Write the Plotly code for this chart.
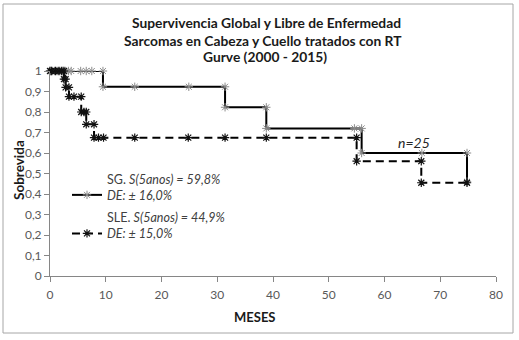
import plotly.graph_objects as go

# ---- data ----
x_ticks = [0, 10, 20, 30, 40, 50, 60, 70, 80]
y_ticks = [0, 0.1, 0.2, 0.3, 0.4, 0.5, 0.6, 0.7, 0.8, 0.9, 1.0]
y_ticktext = ["0", "0,1", "0,2", "0,3", "0,4", "0,5", "0,6", "0,7", "0,8", "0,9", "1"]

# Supervivencia global (SG)
sg_event_t = [9.5, 31.4, 38.8, 55.9, 74.8]
sg_surv = [0.923, 0.823, 0.72, 0.60, 0.46]
sg_censor_t = [0.3, 0.8, 1.3, 1.8, 2.3, 2.8, 3.3, 3.8, 5.5, 6.5, 7.5,
               15.2, 24.9, 54.6, 66.7]
sg_end = 74.8

# Supervivencia libre de enfermedad (SLE)
sle_event_t = [2.5, 2.8, 3.4, 5.6, 6.5, 7.9, 55.0, 66.6]
sle_surv = [0.96, 0.92, 0.875, 0.80, 0.74, 0.675, 0.56, 0.455]
sle_censor_t = [0.3, 1.0, 1.6, 2.1, 4.3, 6.1, 8.7, 9.6, 15.2, 24.8, 31.4, 38.8]
sle_end = 74.8

sg_name = "SG. <i>S(5anos) = 59,8%</i><br><i>DE: ± 16,0%</i>"
sle_name = "SLE. <i>S(5anos) = 44,9%</i><br><i>DE: ± 15,0%</i>"
n_label = "n=25"


def km_path(event_t, surv, censor_t, end_t):
    xs, ys = [0.0], [1.0]
    level = 1.0
    for t in sorted(set(event_t) | set(censor_t)):
        if t in event_t:
            v = surv[event_t.index(t)]
            xs += [t, t]
            ys += [level, v]
            level = v
        else:
            xs.append(t)
            ys.append(level)
    if xs[-1] < end_t:
        xs.append(end_t)
        ys.append(level)
    return xs, ys


sg_x, sg_y = km_path(sg_event_t, sg_surv, sg_censor_t, sg_end)
sle_x, sle_y = km_path(sle_event_t, sle_surv, sle_censor_t, sle_end)

FONT = "Lato"
fig = go.Figure()
fig.add_trace(go.Scatter(
    x=sg_x, y=sg_y, mode="lines+markers", name=sg_name, legendgroup="sg",
    line=dict(color="#000000", width=2),
    marker=dict(symbol="asterisk-open", size=7, color="#8c8c8c",
                line=dict(color="#8c8c8c", width=1)),
    cliponaxis=False,
))
fig.add_trace(go.Scatter(
    x=sle_x, y=sle_y, mode="lines+markers", name=sle_name, legendgroup="sle",
    line=dict(color="#000000", width=2, dash="8px,5px"),
    marker=dict(symbol="asterisk-open", size=7, color="#111111",
                line=dict(color="#111111", width=1.2)),
    cliponaxis=False,
))

L, R, T, B, W, H = 50, 23, 71, 64, 519, 340
pw, ph = W - L - R, H - T - B


def px(xp):
    return (xp - L) / pw


def py(yp):
    return (H - B - yp) / ph


annotations = [
    dict(text="<b>Supervivencia Global y Libre de Enfermedad</b>", x=px(266), y=py(22)),
    dict(text="<b>Sarcomas en Cabeza y Cuello tratados con RT</b>", x=px(263), y=py(40)),
    dict(text="<b>Gurve (2000 - 2015)</b>", x=px(265), y=py(57)),
]
for a in annotations:
    a.update(xref="paper", yref="paper", showarrow=False, xanchor="center",
             yanchor="middle", font=dict(family=FONT, size=13.8, color="#1a1a1a"))
annotations.append(dict(text="<b>MESES</b>", x=px(255), y=py(317),
                        xref="paper", yref="paper", showarrow=False,
                        xanchor="center", yanchor="middle",
                        font=dict(family=FONT, size=13, color="#1a1a1a")))
annotations.append(dict(text="<b>Sobrevida</b>", x=px(19), y=py(170),
                        xref="paper", yref="paper", showarrow=False, textangle=-90,
                        xanchor="center", yanchor="middle",
                        font=dict(family=FONT, size=13.5, color="#1a1a1a")))
annotations.append(dict(text="<i>" + n_label + "</i>", x=px(414), y=py(142),
                        xref="paper", yref="paper", showarrow=False,
                        xanchor="center", yanchor="middle",
                        font=dict(family=FONT, size=14, color="#262626")))

fig.update_layout(
    width=W, height=H,
    margin=dict(l=L, r=R, t=T, b=B),
    paper_bgcolor="white", plot_bgcolor="white",
    font=dict(family=FONT, size=12, color="#595959"),
    showlegend=True,
    legend=dict(x=px(67), y=py(164), xanchor="left", yanchor="top",
                bgcolor="rgba(0,0,0,0)", valign="bottom",
                traceorder="grouped", tracegroupgap=3,
                font=dict(family=FONT, size=12.5, color="#404040")),
    annotations=annotations,
    shapes=[dict(type="rect", xref="paper", yref="paper",
                 x0=px(3), x1=px(513), y0=py(333), y1=py(4),
                 line=dict(color="#a6a6a6", width=1), layer="below")],
    xaxis=dict(range=[0, 80], tickvals=x_ticks, showgrid=False, zeroline=False,
               automargin=False, ticklabelstandoff=3,
               showline=True, linecolor="#868686", linewidth=1,
               ticks="outside", ticklen=5, tickcolor="#868686",
               tickfont=dict(family=FONT, size=12, color="#595959")),
    yaxis=dict(range=[0, 1], tickvals=y_ticks, ticktext=y_ticktext,
               showgrid=False, zeroline=False, automargin=False,
               showline=True, linecolor="#868686", linewidth=1,
               ticks="outside", ticklen=5, tickcolor="#868686",
               tickfont=dict(family=FONT, size=12, color="#595959")),
)

fig.write_html("out.html", config={"displayModeBar": False},
               post_script="document.body.style.margin='0';document.body.style.overflow='hidden';")
